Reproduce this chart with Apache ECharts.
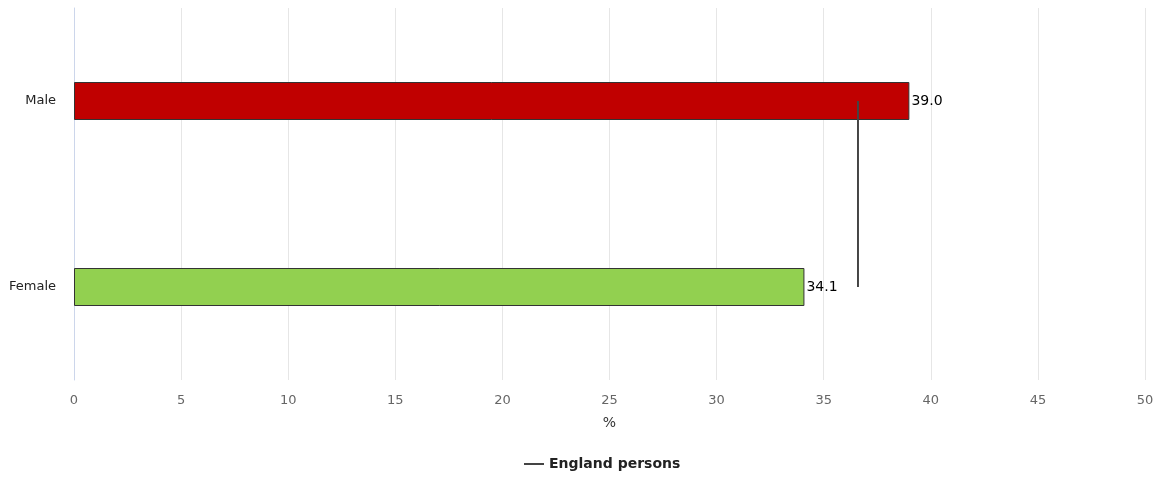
<!DOCTYPE html>
<html><head><meta charset="utf-8">
<script src="https://cdn.jsdelivr.net/npm/echarts@6/dist/echarts.min.js"></script>
<style>html,body{margin:0;padding:0;background:#fff}#c{width:1162px;height:477px}</style>
</head><body><div id="c"></div>
<script>
const categories = ['Male', 'Female'];
const values = [39.0, 34.1];
const barColors = ['#c00000', '#92d050'];
const englandPersons = [36.6, 36.6];
const xTicks = { min: 0, max: 50, interval: 5 };

const chart = echarts.init(document.getElementById('c'));
chart.setOption({
  animation: false,
  grid: { left: 74, right: 17, top: 8, bottom: 97, containLabel: false },
  xAxis: {
    type: 'value', min: xTicks.min, max: xTicks.max, interval: xTicks.interval,
    name: '%', nameLocation: 'middle', nameGap: 36,
    nameTextStyle: { color: '#333', fontSize: 14, fontFamily: 'DejaVu Sans' },
    axisLabel: { color: '#666', fontSize: 13, margin: 14, fontFamily: 'DejaVu Sans' },
    axisLine: { show: false }, axisTick: { show: false },
    splitLine: { lineStyle: { color: '#e6e6e6', width: 1 } }
  },
  yAxis: {
    type: 'category', data: categories, inverse: true,
    axisLabel: { color: '#222', fontSize: 13, margin: 18, fontFamily: 'DejaVu Sans' },
    axisLine: { lineStyle: { color: '#ccd6eb' } }, axisTick: { show: false }
  },
  legend: {
    bottom: 1, left: 519, selectedMode: false,
    data: [{ name: 'England persons', icon: 'path://M0,0H20V2H0Z' }],
    itemWidth: 20, itemHeight: 2, itemGap: 6,
    textStyle: { fontWeight: 'bold', fontSize: 14, color: '#222', fontFamily: 'DejaVu Sans' }
  },
  series: [
    {
      type: 'bar', name: 'Value', barWidth: 38,
      data: values.map((v, i) => ({ value: v, itemStyle: { color: barColors[i] } })),
      itemStyle: { borderColor: '#333', borderWidth: 1 },
      label: { show: true, position: 'right', distance: 2, formatter: p => p.value.toFixed(1), color: '#000', fontSize: 14, fontFamily: 'DejaVu Sans' }
    },
    {
      type: 'line', name: 'England persons', data: englandPersons,
      symbol: 'none', lineStyle: { color: '#444', width: 2 }, itemStyle: { color: '#444' }, z: 5
    }
  ]
});
</script></body></html>
